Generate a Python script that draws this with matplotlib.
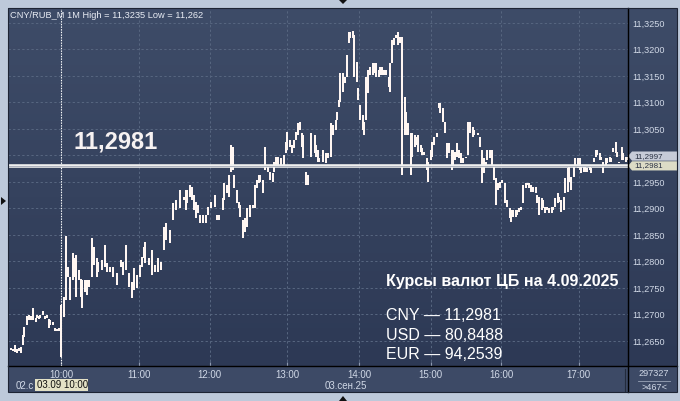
import matplotlib
matplotlib.use("Agg")
import matplotlib.pyplot as plt
import numpy as np
from matplotlib import transforms
from matplotlib.colors import LinearSegmentedColormap
from matplotlib.lines import Line2D
from matplotlib.patches import Polygon, Rectangle

# ---- data: 1-minute bars, index 0 = 03.09 10:00 (negative = end of 02.09)
bar_min = [
    -43, -41, -39, -38, -36, -34, -33, -31, -30, -28, -26, -25, -23, -21, -20, -18, -17, -15, -13, -12,
    -10, -9, -7, -5, -4, -2, 0,
    2, 4, 5, 7, 9, 10, 12, 14, 16, 17, 19, 21, 22, 25, 26, 29, 30, 33, 35, 37,
    39, 42, 45, 48, 50, 52, 55, 57, 59, 61, 64, 65, 67, 68, 71, 73, 76, 78, 81, 83,
    85, 88, 90, 93,
    96, 99, 101, 102, 104, 106, 107, 109, 111, 112, 115, 117, 119, 121, 124, 126, 128, 131, 132, 134,
    136, 137, 139, 140, 142, 144, 145, 147, 149, 150, 153, 155, 157, 158, 160, 161, 163, 165, 167, 169,
    171, 172, 174, 175, 178, 180, 182, 183, 185, 187, 188, 190, 192, 193, 195, 196, 198, 200, 202, 205,
    206, 208, 209, 212, 214, 216,
    218, 220, 222, 223, 225, 226, 228, 230, 231, 233, 234, 236, 237, 239, 240, 242, 244, 245, 247, 248,
    250, 252, 253, 255, 257, 258, 260, 261, 263, 265, 266, 268, 269, 271, 273, 274, 276, 278, 279, 281,
    283, 284, 286, 287, 289, 291, 292, 294, 296, 297, 299, 300, 302, 304,
    306, 307, 309, 311, 312, 314, 316, 317, 319, 320, 322, 324, 325, 328, 329, 331, 333, 334, 337, 339,
    341, 342, 344, 345, 347, 349, 350, 352, 354, 355, 357, 359, 361, 363, 364, 366, 368, 369, 371, 372,
    374, 376, 377, 379, 380, 382, 384, 385, 387, 389, 390, 392, 393, 395, 397, 398, 400, 402, 403, 405,
    407, 408, 410, 411, 413, 415, 416, 418, 420, 421, 423, 424, 426, 428, 429, 431, 433, 434, 436, 437,
    439, 441, 442, 444, 445, 447, 449, 450, 452, 454, 455, 457, 458,
]
bar_high = [
    11.2631, 11.2637, 11.2635, 11.2642, 11.2635, 11.2637, 11.2639, 11.2661, 11.2676, 11.2697,
    11.2699, 11.2697, 11.2712, 11.2693, 11.2699, 11.2697, 11.2699, 11.2707, 11.2697, 11.2699,
    11.2692, 11.2690, 11.2686, 11.2675, 11.2673, 11.2675, 11.2718,
    11.2733, 11.2848, 11.2790, 11.2771, 11.2816, 11.2807, 11.2812, 11.2784, 11.2767, 11.2765,
    11.2765, 11.2765, 11.2765, 11.2844, 11.2827, 11.2807, 11.2799, 11.2803, 11.2831, 11.2797,
    11.2790, 11.2790, 11.2778, 11.2803, 11.2799, 11.2831, 11.2778, 11.2761, 11.2788, 11.2775,
    11.2793, 11.2808, 11.2827, 11.2837, 11.2807, 11.2822, 11.2793, 11.2807, 11.2799, 11.2865,
    11.2873, 11.2859, 11.2910, 11.2916,
    11.2935, 11.2922, 11.2935, 11.2935, 11.2944, 11.2941, 11.2925, 11.2912, 11.2907, 11.2888,
    11.2888, 11.2888, 11.2903, 11.2912, 11.2925, 11.2888, 11.2888, 11.2920, 11.2948, 11.2944,
    11.2963, 11.3020, 11.3016, 11.2963, 11.2935, 11.2912, 11.2907, 11.2878, 11.2882, 11.2901,
    11.2907, 11.2907, 11.2944, 11.2954, 11.2963, 11.2963, 11.2954, 11.3016, 11.2982, 11.2969,
    11.2967, 11.2988, 11.2997, 11.2997, 11.2995, 11.3001, 11.3025, 11.3044, 11.3029, 11.3020,
    11.3029, 11.3044, 11.3061, 11.3063, 11.3042, 11.3039, 11.2969, 11.2963, 11.3042, 11.3039,
    11.3020, 11.3010, 11.2995, 11.3010, 11.3005, 11.3005,
    11.3061, 11.3058, 11.3067, 11.3082, 11.3105, 11.3156, 11.3156, 11.3148, 11.3190, 11.3233,
    11.3233, 11.3235, 11.3227, 11.3176, 11.3127, 11.3095, 11.3076, 11.3063, 11.3148, 11.3161,
    11.3167, 11.3175, 11.3175, 11.3175, 11.3161, 11.3167, 11.3167, 11.3161, 11.3161, 11.3148,
    11.3175, 11.3218, 11.3222, 11.3227, 11.3233, 11.3224, 11.3224, 11.3110, 11.3082, 11.3061,
    11.3042, 11.3042, 11.3039, 11.3035, 11.3039, 11.3020, 11.3014, 11.3007, 11.2995, 11.2988,
    11.3010, 11.3025, 11.3035, 11.3042,
    11.3099, 11.3099, 11.3090, 11.3063, 11.3024, 11.3024, 11.3010, 11.3010, 11.3007, 11.3024,
    11.3010, 11.3005, 11.2995, 11.2997, 11.3063, 11.3063, 11.3054, 11.3048, 11.3042, 11.3035,
    11.3010, 11.2995, 11.2988, 11.3010, 11.3010, 11.3010, 11.2978, 11.2958, 11.2948, 11.2950,
    11.2954, 11.2948, 11.2916, 11.2901, 11.2897, 11.2897, 11.2897, 11.2897, 11.2901, 11.2903,
    11.2944, 11.2948, 11.2948, 11.2948, 11.2944, 11.2941, 11.2941, 11.2925, 11.2922, 11.2920,
    11.2916, 11.2903, 11.2903, 11.2901, 11.2903, 11.2903, 11.2920, 11.2929, 11.2922, 11.2916,
    11.2922, 11.2958, 11.2976, 11.2978, 11.2959, 11.2978, 11.2995, 11.2995, 11.2995, 11.2982,
    11.2978, 11.2978, 11.2976, 11.2982, 11.2976, 11.2995, 11.3010, 11.3010, 11.3005, 11.2997,
    11.2988, 11.2995, 11.2995, 11.2997, 11.2995, 11.3014, 11.3025, 11.3007, 11.2988, 11.3016,
    11.3005, 11.2997, 11.2997,
]
bar_low = [
    11.2622, 11.2633, 11.2631, 11.2629, 11.2627, 11.2631, 11.2627, 11.2642, 11.2658, 11.2680,
    11.2690, 11.2690, 11.2690, 11.2686, 11.2693, 11.2692, 11.2693, 11.2699, 11.2692, 11.2693,
    11.2675, 11.2680, 11.2680, 11.2669, 11.2669, 11.2669, 11.2620,
    11.2695, 11.2727, 11.2771, 11.2727, 11.2765, 11.2771, 11.2733, 11.2765, 11.2733, 11.2712,
    11.2742, 11.2737, 11.2752, 11.2771, 11.2793, 11.2771, 11.2780, 11.2784, 11.2790, 11.2780,
    11.2780, 11.2771, 11.2756, 11.2790, 11.2775, 11.2784, 11.2752, 11.2731, 11.2746, 11.2750,
    11.2771, 11.2790, 11.2807, 11.2797, 11.2793, 11.2775, 11.2780, 11.2780, 11.2784, 11.2822,
    11.2841, 11.2835, 11.2878, 11.2897,
    11.2901, 11.2916, 11.2897, 11.2910, 11.2922, 11.2916, 11.2897, 11.2882, 11.2892, 11.2873,
    11.2873, 11.2873, 11.2888, 11.2901, 11.2903, 11.2878, 11.2878, 11.2897, 11.2916, 11.2929,
    11.2922, 11.2969, 11.2973, 11.2939, 11.2910, 11.2901, 11.2884, 11.2844, 11.2856, 11.2865,
    11.2884, 11.2901, 11.2901, 11.2939, 11.2948, 11.2950, 11.2929, 11.2973, 11.2969, 11.2954,
    11.2950, 11.2969, 11.2982, 11.2978, 11.2982, 11.2978, 11.3005, 11.3010, 11.3016, 11.3005,
    11.3014, 11.3029, 11.3039, 11.3048, 11.3016, 11.2995, 11.2944, 11.2944, 11.2997, 11.3005,
    11.2997, 11.2988, 11.2988, 11.2988, 11.2986, 11.2995,
    11.2997, 11.3039, 11.3048, 11.3067, 11.3092, 11.3101, 11.3120, 11.3137, 11.3148, 11.3212,
    11.3222, 11.3222, 11.3148, 11.3139, 11.3105, 11.3067, 11.3048, 11.3039, 11.3067, 11.3118,
    11.3152, 11.3152, 11.3156, 11.3148, 11.3148, 11.3152, 11.3152, 11.3152, 11.3152, 11.3129,
    11.3120, 11.3175, 11.3208, 11.3222, 11.3208, 11.3212, 11.2963, 11.3039, 11.3039, 11.3039,
    11.2963, 11.2997, 11.3016, 11.3020, 11.3007, 11.3007, 11.3001, 11.3001, 11.2973, 11.2950,
    11.2992, 11.2997, 11.3020, 11.3035,
    11.3090, 11.3080, 11.3063, 11.3042, 11.2995, 11.3005, 11.2973, 11.2982, 11.2992, 11.2997,
    11.2995, 11.2986, 11.2986, 11.2995, 11.3001, 11.3042, 11.3035, 11.3039, 11.3039, 11.3016,
    11.2948, 11.2967, 11.2978, 11.2992, 11.2995, 11.2982, 11.2954, 11.2907, 11.2935, 11.2939,
    11.2948, 11.2910, 11.2903, 11.2882, 11.2875, 11.2884, 11.2884, 11.2888, 11.2893, 11.2897,
    11.2910, 11.2939, 11.2944, 11.2939, 11.2931, 11.2931, 11.2929, 11.2910, 11.2888, 11.2897,
    11.2901, 11.2892, 11.2897, 11.2892, 11.2892, 11.2897, 11.2903, 11.2910, 11.2912, 11.2893,
    11.2897, 11.2929, 11.2931, 11.2950, 11.2935, 11.2959, 11.2978, 11.2976, 11.2973, 11.2967,
    11.2969, 11.2969, 11.2969, 11.2973, 11.2967, 11.2988, 11.2997, 11.3001, 11.2992, 11.2992,
    11.2967, 11.2978, 11.2986, 11.2988, 11.2988, 11.3007, 11.3005, 11.2997, 11.2986, 11.2992,
    11.2992, 11.2988, 11.2992,
]

hour_idx = [0, 63, 120, 183, 241, 299, 356, 419]
hour_lbl = ["10:00", "11:00", "12:00", "13:00", "14:00", "15:00", "16:00", "17:00"]
price_ticks = [11.2650, 11.2700, 11.2750, 11.2800, 11.2850, 11.2900, 11.2950,
               11.3000, 11.3050, 11.3100, 11.3150, 11.3200, 11.3250]

header = "CNY/RUB_M 1M High = 11,3235 Low = 11,262"
cb_level = 11.2981
last_price = 11.2997
cb_title = "Курсы валют ЦБ на 4.09.2025"
cb_codes = ["CNY", "USD", "EUR"]
cb_rates = ["11,2981", "80,8488", "94,2539"]

# ---- figure / pixel helpers
W, H = 680, 401
def fx(px): return px / W
def fy(py): return 1 - py / H

def fmt(v):
    return f"{v:.4f}".replace(".", ",")

plt.rcParams["font.family"] = ["Liberation Sans", "DejaVu Sans"]
fig = plt.figure(figsize=(W / 100, H / 100), dpi=100, facecolor="#bdc9da")

TXT = "#d0d8e6"

# bottom band (time scale)
fig.add_artist(Rectangle((fx(8), fy(392)), fx(669), 26 / H, transform=fig.transFigure,
                         facecolor="#3d4a66", edgecolor="none", zorder=-3))

# gradient background behind plot + price scale
bg = fig.add_axes([fx(8), fy(366), fx(669), 358 / H])
bg.set_zorder(-2)
cmap = LinearSegmentedColormap.from_list("bg", ["#2d3955", "#3e4c68"])
bg.imshow(np.linspace(0, 1, 256).reshape(-1, 1)[::-1], aspect="auto", cmap=cmap,
          extent=[0, 1, 0, 1])
bg.axis("off")

ax = fig.add_axes([fx(8), fy(366), fx(620), 358 / H])
ax.set_facecolor("none")
ax.set_xlim(-43.3, 458.9)
ax.set_ylim(11.26028, 11.32783)
for s in ax.spines.values():
    s.set_visible(False)

ax.set_xticks(hour_idx)
ax.set_xticklabels(hour_lbl)
ax.set_yticks(price_ticks)
# the 11,3000 scale label sits under the price boxes, so it stays hidden
ax.set_yticklabels(["" if abs(v - last_price) < 0.0008 else fmt(v) for v in price_ticks])
ax.yaxis.tick_right()
ax.tick_params(axis="y", length=0, pad=3, labelsize=6.6, labelcolor=TXT)
ax.tick_params(axis="x", direction="in", length=3, width=0.8, color="#8c98b0",
               pad=3, labelsize=7, labelcolor=TXT)
ax.grid(True, color="#56657f", linestyle=(0, (2.2, 2.2)), linewidth=0.75)
ax.set_axisbelow(True)

# crosshair at 10:00
ax.axvline(0, color="white", lw=0.8, linestyle=(0, (1.2, 1.2)), zorder=2)

# bars
ax.vlines(bar_min, bar_low, bar_high, color="#fff6f2", lw=1.2, antialiased=False, zorder=3)

# CB rate level
ax.axhline(cb_level, color="#f0f0f0", lw=2.6, zorder=4)
ax.axhline(cb_level, color="#a4a9b6", lw=0.6, zorder=4)
ax.text(0.106, 0.626, fmt(cb_level), transform=ax.transAxes, fontsize=17, fontweight="bold",
        color="#f7f2f2", va="center", ha="left", zorder=5)

# header
ax.text(0.003, 0.98, header, transform=ax.transAxes, fontsize=6.7, color="#e8ecf4",
        va="center", ha="left", zorder=5)

# CB rates block
ax.text(0.610, 0.235, cb_title, transform=ax.transAxes, fontsize=11.5, fontweight="bold",
        color="white", va="center", ha="left", zorder=5)
for i, (c, r) in enumerate(zip(cb_codes, cb_rates)):
    ax.text(0.610, 0.14 - i * 0.054, f"{c} — {r}", transform=ax.transAxes, fontsize=11.5,
            color="white", va="center", ha="left", zorder=5)

# price boxes on the right scale
bt = transforms.blended_transform_factory(ax.transAxes, ax.transData)
hh = 4.6 / 5300
for val, face, nudge in [(cb_level, "#dcdcc6", -0.3 / 5300), (last_price, "#c6cbd8", 1.0 / 5300)]:
    yc = val + nudge
    poly = Polygon([(1.0, yc), (1.0065, yc + hh), (1.079, yc + hh),
                    (1.079, yc - hh), (1.0065, yc - hh)], closed=True,
                   transform=bt, facecolor=face, edgecolor="none", clip_on=False, zorder=6)
    ax.add_patch(poly)
    ax.text(1.0105, yc, fmt(val), transform=bt, fontsize=5.8,
            color="#283042", va="center", ha="left", clip_on=False, zorder=7)

# frame lines
for (x0, y0, x1, y1, c, w) in [(628, 8, 628, 392, "black", 1.0), (8, 366, 677, 366, "black", 1.0),
                               (625, 369, 625, 391, "#232b3c", 0.8)]:
    fig.add_artist(Line2D([fx(x0), fx(x1)], [fy(y0), fy(y1)], transform=fig.transFigure,
                          color=c, lw=w, zorder=8))
fig.add_artist(Rectangle((fx(8), fy(392)), fx(669), 384 / H, transform=fig.transFigure,
                         facecolor="none", edgecolor="#1d2434", lw=0.8, zorder=8))

# date row in time scale (previous-day date is cut by the crosshair box)
fig.text(fx(16), fy(386), "02.с", fontsize=7, color=TXT, va="center", ha="left", zorder=8)
fig.add_artist(Rectangle((fx(35), fy(391)), fx(53), 12 / H, transform=fig.transFigure,
                         facecolor="#e3e1c6", edgecolor="none", zorder=9))
fig.text(fx(37), fy(385.5), "03.09 10:00", fontsize=7, color="#101010", va="center",
         ha="left", zorder=10)
fig.text(fx(325), fy(386), "03.сен.25", fontsize=7, color=TXT, va="center", ha="left", zorder=8)

# corner counter
fig.text(fx(654), fy(374), "297327", fontsize=6.6, color=TXT, va="center", ha="center", zorder=8)
fig.add_artist(Line2D([fx(638), fx(670)], [fy(381), fy(381)], transform=fig.transFigure,
                      color="#9aa4b8", lw=0.6, zorder=8))
fig.text(fx(654), fy(387.5), ">467<", fontsize=6.6, color=TXT, va="center", ha="center", zorder=8)

# little scroll triangles on the outer frame
for pts in [[(339, 0), (347, 0), (343, 4)], [(339, 401), (347, 401), (343, 396)],
            [(1, 197), (1, 205), (6, 201)]]:
    fig.add_artist(Polygon([(fx(a), fy(b)) for a, b in pts], closed=True,
                           transform=fig.transFigure, facecolor="#111111",
                           edgecolor="none", zorder=8))

fig.savefig("out.png", dpi=100, facecolor=fig.get_facecolor())
